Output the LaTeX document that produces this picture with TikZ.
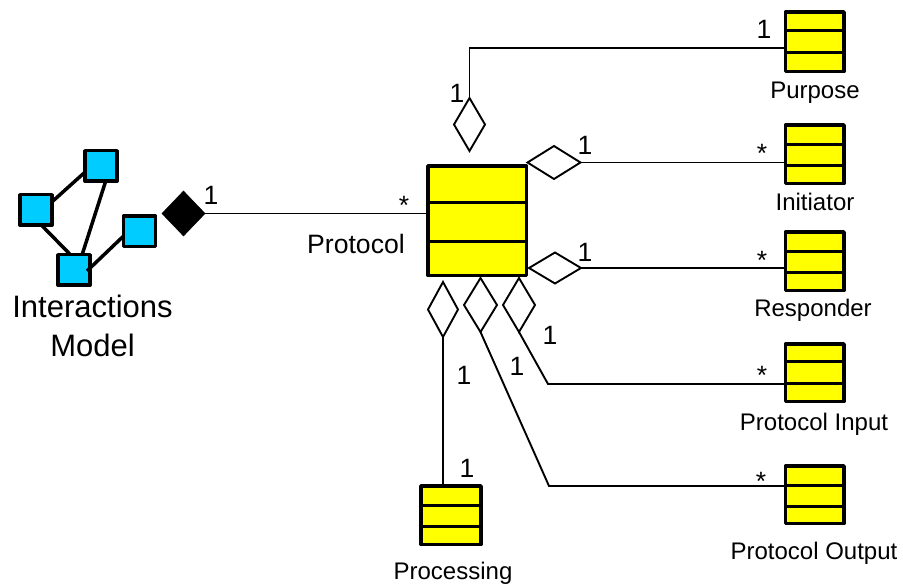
\documentclass[tikz,border=0pt]{standalone}
\usepackage{fontspec}
\setmainfont{Liberation Sans}
\usetikzlibrary{shapes.geometric}
\definecolor{boxyellow}{HTML}{FFFF00}
\definecolor{boxblue}{HTML}{00CCFF}
\tikzset{
  umlbox/.style={draw=black,fill=boxyellow,line width=3.5pt,line join=round,inner sep=0pt,outer sep=0pt},
  divider/.style={line width=3pt},
  bluebox/.style={draw=black,fill=boxblue,line width=3.5pt,line join=round,inner sep=0pt,outer sep=0pt,minimum width=32pt,minimum height=30.5pt},
  link/.style={line width=1.9pt,line join=miter},
  bluelink/.style={line width=3.5pt},
  aggr/.style={diamond,aspect=1,draw=black,fill=white,line width=1.9pt,inner sep=0pt,outer sep=0pt},
  comp/.style={diamond,aspect=1,draw=black,fill=black,line width=0.5pt,inner sep=0pt,outer sep=0pt},
  lab/.style={font=\fontsize{24}{24}\selectfont,inner sep=0pt},
  mult/.style={font=\fontsize{26.5}{26.5}\selectfont,inner sep=0pt},
  big/.style={font=\fontsize{31}{31}\selectfont,inner sep=0pt}
}
\newcommand{\classbox}[7]{%
  \node[umlbox,minimum width=#4pt-#2pt,minimum height=#5pt-#3pt] (#1) at ({(#2+#4)/2},{(#3+#5)/2}) {};
  \draw[divider] (#1.west |- 0,#6) -- (#1.east |- 0,#6);
  \draw[divider] (#1.west |- 0,#7) -- (#1.east |- 0,#7);
}
\begin{document}
\begin{tikzpicture}[x=1pt,y=-1pt]
\useasboundingbox (0,0) rectangle (903,585);
% interactions model
\node[bluebox] (A) at (101,166) {};
\node[bluebox] (B) at (36,210) {};
\node[bluebox] (C) at (74,270) {};
\node[bluebox] (D) at (139.5,231.5) {};
\coordinate (cD) at (87,271);
\draw[bluelink] (B.27) -- (A.201);
\draw[bluelink] (B.-70) -- (C.103);
\draw[bluelink] (A.-73) -- (C.62);
\draw[bluelink] (D.196) -- (cD);
% classes
\classbox{P}{428}{166}{526.5}{275.5}{203}{242}
\classbox{Pur}{785.5}{12}{844}{71.5}{31}{53}
\classbox{Ini}{785.5}{125}{844}{183.5}{145}{166}
\classbox{Res}{785.5}{232}{844}{290.5}{252}{273}
\classbox{Inp}{785.5}{344}{844}{401.5}{362}{384}
\classbox{Out}{785.5}{466}{844}{523.5}{485}{506}
\classbox{Pro}{421}{486}{481}{544.5}{505}{526}
% diamonds
\node[comp,minimum width=43pt,minimum height=45pt] (blk) at (183.5,213.5) {};
\node[aggr,minimum width=31pt,minimum height=53pt] (dTop) at (469.5,124.5) {};
\node[aggr,minimum width=53pt,minimum height=33pt] (dIni) at (554,162.5) {};
\node[aggr,minimum width=52pt,minimum height=31pt] (dRes) at (555,268) {};
\node[aggr,minimum width=30pt,minimum height=55pt] (dPro) at (443,309.5) {};
\node[aggr,minimum width=33pt,minimum height=54pt] (dOut) at (480.5,305) {};
\node[aggr,minimum width=32pt,minimum height=54pt] (dInp) at (519,305) {};
\coordinate (bendOut) at (549,486);
\coordinate (bendInp) at (548,384);
% connectors
\draw[link] (blk.east) -- (blk.east -| P.west);
\draw[link] (dTop.north) |- (Pur.west |- 0,48);
\draw[link] (dIni.east) -- (dIni.east -| Ini.west);
\draw[link] (dRes.east) -- (dRes.east -| Res.west);
\draw[link] (dPro.south) -- (dPro.south |- Pro.north);
\draw[link] (dOut.south) -- (bendOut) -- (bendOut -| Out.west);
\draw[link] (dInp.south) -- (bendInp) -- (bendInp -| Inp.west);
% labels
\node[big] (tInt) at (92.5,306) {Interactions};
\node[big] (tMod) at (92.5,345) {Model};
\node[lab,font=\fontsize{26.6}{26.6}\selectfont] (tPro) at (356,244) {Protocol};
\node[lab] (tPur) at (815,93) {Purpose};
\node[lab] (tIni) at (815,202) {Initiator};
\node[lab] (tRes) at (813,310) {Responder};
\node[lab] (tInp) at (814,424) {Protocol Input};
\node[lab] (tOut) at (814,553) {Protocol Output};
\node[lab] (tPrc) at (453,573) {Processing};
\node[mult] (m1) at (211,195) {1};
\node[mult] (m2) at (404,205) {*};
\node[mult] (m3) at (457,93) {1};
\node[mult] (m4) at (764,29) {1};
\node[mult] (m5) at (585,145) {1};
\node[mult] (m6) at (762,153) {*};
\node[mult] (m7) at (585,252) {1};
\node[mult] (m8) at (762,260) {*};
\node[mult] (m9) at (464,375) {1};
\node[mult] (m10) at (517,366) {1};
\node[mult] (m11) at (550,335) {1};
\node[mult] (m12) at (762,375) {*};
\node[mult] (m13) at (761,481) {*};
\node[mult] (m14) at (467,468) {1};
\end{tikzpicture}
\end{document}
